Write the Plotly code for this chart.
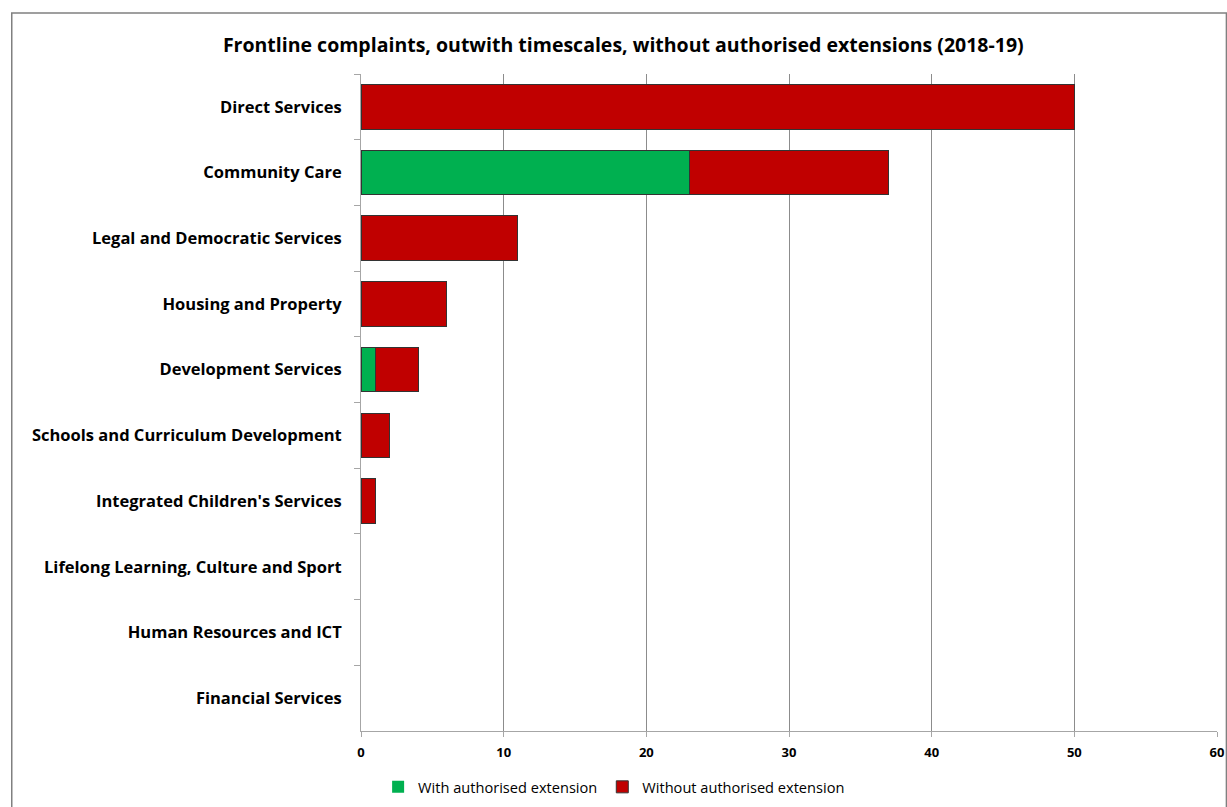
import plotly.graph_objects as go

categories = [
    "Direct Services",
    "Community Care",
    "Legal and Democratic Services",
    "Housing and Property",
    "Development Services",
    "Schools and Curriculum Development",
    "Integrated Children's Services",
    "Lifelong Learning, Culture and Sport",
    "Human Resources and ICT",
    "Financial Services",
]
with_ext = [0, 23, 0, 0, 1, 0, 0, 0, 0, 0]
without_ext = [50, 14, 11, 6, 3, 2, 1, 0, 0, 0]

FONT = "Open Sans"

fig = go.Figure()
fig.add_trace(go.Bar(
    y=categories, x=with_ext, orientation="h", name="With authorised extension",
    marker=dict(color="#00B050",
                line=dict(color="#333333", width=[1 if v else 0 for v in with_ext])),
))
fig.add_trace(go.Bar(
    y=categories, x=without_ext, orientation="h", name="Without authorised extension",
    marker=dict(color="#C00000",
                line=dict(color="#333333", width=[1 if v else 0 for v in without_ext])),
))

fig.update_layout(
    barmode="stack",
    bargap=0.32,
    width=1227, height=807,
    margin=dict(l=361, r=10, t=74, b=76, autoexpand=False),
    paper_bgcolor="white", plot_bgcolor="white",
    font=dict(family=FONT, color="#000000"),
    title=dict(
        text="<b>Frontline complaints, outwith timescales, without authorised extensions (2018-19)</b>",
        x=0.508, xanchor="center", y=1 - 45 / 807, yanchor="middle",
        font=dict(size=19.5, family=FONT, color="#000000"),
    ),
    xaxis=dict(
        range=[0, 60], dtick=10, showgrid=True, gridcolor="#8C8C8C", gridwidth=1,
        showline=True, linecolor="#A6A6A6", ticks="outside", ticklen=5, tickcolor="#A6A6A6",
        tickfont=dict(size=13, family=FONT, color="#000000", weight="bold"),
        ticklabelstandoff=4, automargin=False,
        zeroline=False,
    ),
    yaxis=dict(
        autorange="reversed", showline=True, linecolor="#A6A6A6",
        ticks="outside", tickson="boundaries", ticklen=6, tickcolor="#A6A6A6",
        tickfont=dict(size=16.5, family=FONT, color="#000000", weight="bold"),
        ticklabelstandoff=15, automargin=False,
    ),
    legend=dict(
        orientation="h", x=0.02, xanchor="left", y=-0.085, yanchor="middle",
        font=dict(size=14.6, family=FONT, color="#000000"),
        traceorder="normal",
    ),
    shapes=[dict(
        type="rect", xref="paper", yref="paper",
        x0=-0.408, x1=1.011, y0=-0.2, y1=1.093,
        line=dict(color="#808080", width=1.5), layer="below",
    )],
)

fig.write_html("out.html")
